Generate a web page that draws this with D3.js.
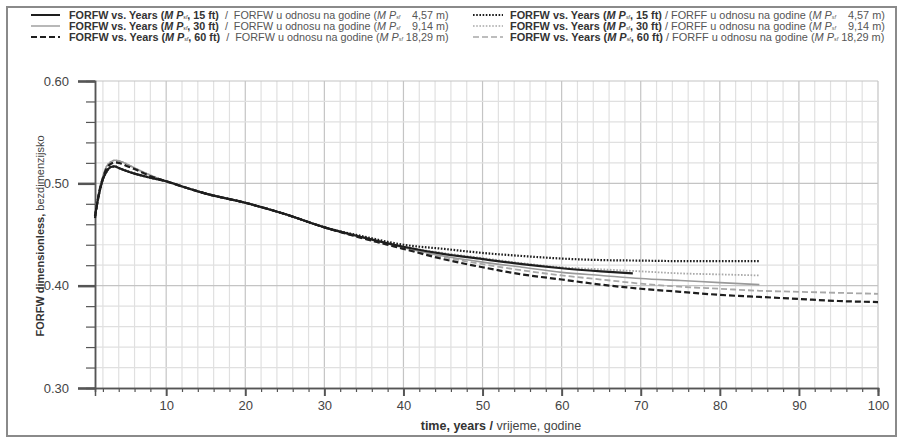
<!DOCTYPE html>
<html><head><meta charset="utf-8">
<script src="https://cdn.jsdelivr.net/npm/d3@7"></script>
<style>
body{margin:0;background:#fff;}
svg{display:block;font-family:"Liberation Sans",Arial,sans-serif;}
.leg{white-space:pre;}
</style></head>
<body><svg id="c" width="903" height="439"></svg>
<script>
// ---- data ----
const yearsTo69  = [1,1.5,2,2.5,3,3.5,4,5,6,8,10,12,15,20,25,30,35,40,45,50,55,60,65,69];
const yearsTo85  = [1,1.5,2,2.5,3,3.5,4,5,6,8,10,12,15,20,25,30,35,40,45,50,55,60,65,70,75,80,85];
const yearsTo100 = [1,1.5,2,2.5,3,3.5,4,5,6,8,10,12,15,20,25,30,35,40,45,50,55,60,65,70,75,80,85,90,95,100];

const forfw15 = [0.468,0.489,0.504,0.512,0.516,0.5165,0.515,0.512,0.5095,0.5055,0.502,0.497,0.490,0.481,0.470,0.457,0.447,0.438,0.431,0.426,0.421,0.417,0.414,0.412];
const forfw30 = [0.470,0.492,0.507,0.517,0.521,0.5225,0.522,0.519,0.515,0.508,0.502,0.497,0.490,0.481,0.470,0.457,0.447,0.437,0.429,0.423,0.418,0.413,0.410,0.407,0.405,0.403,0.401];
const forfw60 = [0.466,0.490,0.505,0.515,0.519,0.5205,0.520,0.517,0.514,0.507,0.502,0.497,0.490,0.481,0.470,0.457,0.446,0.436,0.426,0.418,0.411,0.406,0.401,0.397,0.394,0.391,0.389,0.387,0.385,0.384];
const forff15 = [0.468,0.489,0.504,0.512,0.516,0.5165,0.515,0.512,0.5095,0.5055,0.502,0.497,0.490,0.481,0.470,0.457,0.448,0.440,0.436,0.432,0.429,0.4265,0.425,0.4245,0.424,0.424,0.424];
const forff30 = [0.470,0.492,0.507,0.517,0.521,0.5225,0.522,0.519,0.515,0.508,0.502,0.497,0.490,0.481,0.470,0.457,0.447,0.438,0.432,0.427,0.422,0.418,0.416,0.414,0.412,0.411,0.410];
const forff60 = [0.466,0.490,0.505,0.515,0.519,0.5205,0.520,0.517,0.514,0.507,0.502,0.497,0.490,0.481,0.470,0.457,0.446,0.436,0.428,0.421,0.415,0.410,0.406,0.402,0.399,0.397,0.395,0.394,0.393,0.392];

const yMajorTicks = [0.30,0.40,0.50,0.60];
const xMajorTicks = [10,20,30,40,50,60,70,80,90,100];

const series = [
  {years:yearsTo69,  vals:forfw15, color:"#1e1e1e", width:2.2, dash:null,  ft:"15", m:"4,57",  prefix:"FORFW", col:0},
  {years:yearsTo85,  vals:forfw30, color:"#9a9a9a", width:1.6, dash:null,  ft:"30", m:"9,14",  prefix:"FORFW", col:0},
  {years:yearsTo100, vals:forfw60, color:"#1e1e1e", width:2.2, dash:"6,3", ft:"60", m:"18,29", prefix:"FORFW", col:0},
  {years:yearsTo85,  vals:forff15, color:"#1e1e1e", width:2.2, dash:"1.6,1.6", ft:"15", m:"4,57",  prefix:"FORFF", col:1},
  {years:yearsTo85,  vals:forff30, color:"#a8a8a8", width:1.8, dash:"1.6,1.6", ft:"30", m:"9,14",  prefix:"FORFF", col:1},
  {years:yearsTo100, vals:forff60, color:"#a8a8a8", width:1.8, dash:"6,3", ft:"60", m:"18,29", prefix:"FORFF", col:1}
];

// ---- layout ----
const svg = d3.select("#c");
const x = d3.scaleLinear().domain([1,100]).range([95,878]);
const y = d3.scaleLinear().domain([0.30,0.60]).range([388,81]);

// frame
svg.append("rect").attr("x",7).attr("y",7).attr("width",889).attr("height",429)
  .attr("fill","none").attr("stroke","#8a8a8a").attr("stroke-width",2);

// grid
const gx = d3.range(2,101,2);
const gy = d3.range(0.32,0.6001,0.02);
const grid = svg.append("g");
grid.selectAll(".vx").data(gx).join("line")
  .attr("x1",d=>x(d)).attr("x2",d=>x(d)).attr("y1",y(0.60)).attr("y2",y(0.30))
  .attr("stroke",d=>d%10===0?"#c4c4c4":"#e0e0e0").attr("stroke-width",1.2);
grid.selectAll(".hy").data(gy).join("line")
  .attr("x1",x(1)).attr("x2",x(100)).attr("y1",d=>y(d)).attr("y2",d=>y(d))
  .attr("stroke",d=>Math.abs(Math.round(d*10)-d*10)<1e-6?"#c4c4c4":"#e0e0e0").attr("stroke-width",1.2);

// axes
const xMinor = d3.range(2,100,2).filter(d=>d%10!==0);
const xAxisMajor = d3.axisBottom(x).tickValues(xMajorTicks).tickSize(8).tickPadding(5).tickFormat(d3.format("d"));
const xAxisMinor = d3.axisBottom(x).tickValues(xMinor).tickSize(4).tickFormat("");
const gxm = svg.append("g").attr("transform","translate(0,388)").call(xAxisMinor);
const gxM = svg.append("g").attr("transform","translate(0,388)").call(xAxisMajor);
const yMinor = d3.range(0.32,0.60,0.02).filter(d=>Math.abs(Math.round(d*10)-d*10)>1e-6);
const yAxisMajor = d3.axisLeft(y).tickValues(yMajorTicks).tickSize(17).tickPadding(9).tickFormat(d3.format(".2f"));
const yAxisMinor = d3.axisLeft(y).tickValues(yMinor).tickSize(9).tickFormat("");
const gym = svg.append("g").attr("transform","translate(95,0)").call(yAxisMinor);
const gyM = svg.append("g").attr("transform","translate(95,0)").call(yAxisMajor);
[gxm,gxM,gym,gyM].forEach(g=>{
  g.select(".domain").attr("stroke","#555").attr("stroke-width",1.5);
  g.selectAll(".tick line").attr("stroke","#555");
  g.selectAll("text").attr("fill","#444").style("font-size","13px").style("font-family","'Liberation Sans',Arial,sans-serif");
});
gxM.selectAll(".tick line").attr("stroke-width",2);
gyM.selectAll(".tick line").attr("stroke-width",2.5);
gym.selectAll(".tick line").attr("stroke-width",1.2);
gxm.selectAll(".tick line").attr("stroke-width",1.2);

// lines
const line = d3.line().x(d=>x(d[0])).y(d=>y(d[1])).curve(d3.curveMonotoneX);
const order = [5,4,1,3,0,2];
order.forEach(i=>{
  const s = series[i];
  svg.append("path").datum(s.years.map((yr,k)=>[yr,s.vals[k]]))
    .attr("d",line).attr("fill","none").attr("stroke",s.color).attr("stroke-width",s.width)
    .attr("stroke-dasharray",s.dash);
});

// axis titles
const xt = svg.append("text").attr("x",501).attr("y",430).attr("text-anchor","middle")
  .style("font-size","12.5px").attr("fill","#444");
xt.append("tspan").attr("font-weight","bold").attr("fill","#333").text("time, years /");
xt.append("tspan").text(" vrijeme, godine");

const yt = svg.append("text").attr("transform","translate(44,236) rotate(-90)").attr("text-anchor","middle")
  .style("font-size","11px").attr("fill","#444");
yt.append("tspan").attr("font-weight","bold").attr("fill","#333").text("FORFW dimensionless,");
yt.append("tspan").text(" bezdimenzijsko");

// legend
const legX = [[31,60,69],[473,503,510]];
const legW = [380,375];
const legY = [15,26,37];
series.forEach((s,i)=>{
  const row = i%3, c = s.col;
  const ly = legY[row];
  svg.append("line").attr("x1",legX[c][0]).attr("x2",legX[c][1]).attr("y1",ly).attr("y2",ly)
    .attr("stroke",s.color).attr("stroke-width",s.width===2.2?2:1.4).attr("stroke-dasharray",s.dash);
  const g = svg.append("g");
  const t = g.append("text").attr("class","leg").attr("x",0).attr("y",0)
    .style("font-size","10.5px").attr("fill","#555");
  t.append("tspan").attr("font-weight","bold").attr("fill","#333").text("FORFW vs. Years (");
  t.append("tspan").attr("font-weight","bold").attr("font-style","italic").attr("fill","#333").text("M P");
  t.append("tspan").attr("font-size","5px").attr("font-style","italic").attr("fill","#333").text("sf");
  t.append("tspan").attr("font-weight","bold").attr("fill","#333").text(", "+s.ft+" ft)");
  t.append("tspan").text((c===0?"  /  ":" / ")+s.prefix+" u odnosu na godine (");
  t.append("tspan").attr("font-style","italic").text("M P");
  t.append("tspan").attr("font-size","5px").attr("font-style","italic").text("sf");
  t.append("tspan").text((s.m.length===4?"    ":" ")+s.m+" m)");
  const w = t.node().getComputedTextLength();
  const k = w>0 ? legW[c]/w : 1;
  g.attr("transform",`translate(${legX[c][2]},${ly+4}) scale(${k},1)`);
});
</script></body></html>
